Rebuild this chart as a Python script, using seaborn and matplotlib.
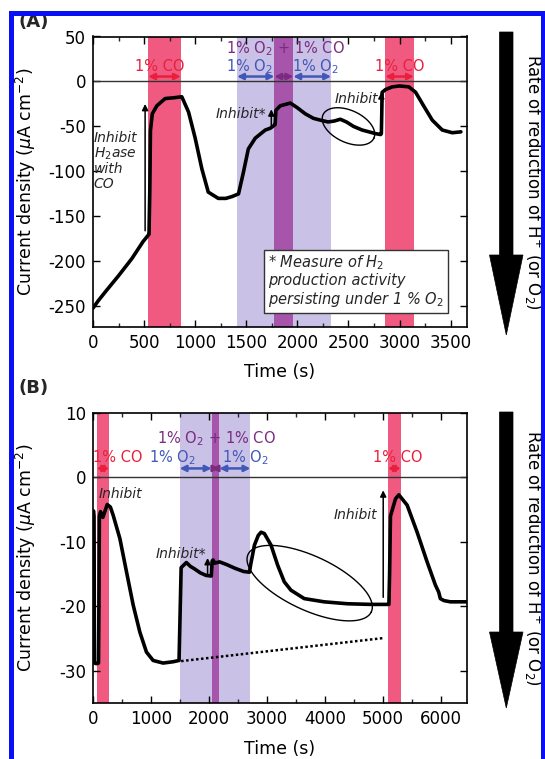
import numpy as np
import pandas as pd
import seaborn as sns
import matplotlib
matplotlib.use('Agg')
import matplotlib.pyplot as plt
from matplotlib.patches import Polygon, Rectangle
from matplotlib.ticker import MultipleLocator

# ---------------- data ----------------
# Panel A : current density (uA cm-2) vs time (s)
time_a = [0, 50, 120, 250, 380, 490, 540, 548, 556, 562, 580, 625, 706, 800, 869,
          935, 1000, 1065, 1128, 1226, 1300, 1360, 1424, 1472, 1520, 1588, 1686,
          1735, 1770, 1782, 1790, 1833, 1900, 1931, 1997, 2078, 2157, 2225, 2300,
          2360, 2420, 2480, 2550, 2634, 2700, 2765, 2815, 2822, 2830, 2863, 2928,
          3000, 3091, 3157, 3235, 3320, 3418, 3516, 3600]
curr_a = [-252, -244, -234, -216, -197, -178, -171, -170, -120, -55, -36, -27, -19,
          -18, -17, -34, -63, -97, -123, -130, -130, -128, -125, -101, -75, -63, -54,
          -52, -49, -48, -32, -27, -25, -24, -29, -36, -41, -43, -45, -44, -42, -45,
          -50, -54, -56, -58, -59, -58, -12, -9, -6, -5, -6, -12, -27, -43, -54, -57,
          -56]

# Panel B
time_b = [0, 10, 18, 25, 60, 95, 102, 110, 130, 170, 245, 300, 349, 464, 579, 693,
          808, 922, 1037, 1209, 1381, 1484, 1500, 1520, 1610, 1680, 1753, 1850, 1950,
          2040, 2055, 2070, 2100, 2182, 2300, 2450, 2600, 2698, 2720, 2784, 2850,
          2898, 2955, 3070, 3184, 3299, 3414, 3643, 3986, 4387, 4788, 5103, 5115,
          5130, 5218, 5275, 5418, 5590, 5762, 5905, 5962, 5990, 6050, 6162, 6306, 6450]
curr_b = [-5.4, -5.2, -6, -28.8, -28.9, -28.8, -20, -6, -5.3, -6.2, -4.2, -4.6, -5.9,
          -9.5, -14.7, -19.8, -24, -27.1, -28.4, -28.8, -28.6, -28.4, -22, -14, -13.2,
          -13.8, -14.2, -14.8, -15.2, -15.3, -13, -12.8, -13.3, -13.1, -13.5, -14.1,
          -14.6, -14.7, -13.5, -10.5, -9, -8.5, -8.7, -10.5, -13.6, -16.2, -17.5,
          -18.8, -19.3, -19.6, -19.7, -19.7, -15, -6, -3.3, -2.7, -4.3, -8.5, -13.1,
          -16.7, -17.8, -18.8, -19.1, -19.3, -19.3, -19.3]

# gas-exposure intervals (s)
co_a = [(540, 860), (2860, 3140)]
o2_a = (1410, 2330)
o2co_a = (1775, 1960)
co_b = [(63, 280), (5086, 5310)]
o2_b = (1495, 2715)
o2co_b = (2045, 2180)
baseline_b_t = [1520, 5030]
baseline_b_v = [-28.5, -24.9]

xticks_a = [0, 500, 1000, 1500, 2000, 2500, 3000, 3500]
yticks_a = [50, 0, -50, -100, -150, -200, -250]
xticks_b = [0, 1000, 2000, 3000, 4000, 5000, 6000]
yticks_b = [10, 0, -10, -20, -30]

# ---------------- style ----------------
sns.set_theme(style='ticks')
plt.rcParams['font.family'] = ['DejaVu Sans']
plt.rcParams['mathtext.fontset'] = 'dejavusans'

PINK = '#f05a80'
LPURP = '#c9c1e6'
DPURP = '#a655aa'
RED = '#e8203c'
BLUE = '#4058b8'
PURP = '#7a2c80'

W, H = 545, 759
fig = plt.figure(figsize=(W / 100, H / 100), dpi=100)
fig.patch.set_facecolor('white')


def fx(px):
    return px / W


def fy(py):
    return 1 - py / H


def make_ax(left, right, top, bottom):
    return fig.add_axes([fx(left), fy(bottom), fx(right) - fx(left), fy(top) - fy(bottom)])


axA = make_ax(93, 467, 36.5, 327)
axB = make_ax(93, 467, 413, 703)

XLIM_A, YLIM_A = (0, 3660), (-273, 50)
XLIM_B, YLIM_B = (0, 6450), (-35, 10)


def ellipse(ax, tc, vc, a_px, b_px, ang, xlim, ylim, wpx, hpx):
    sx = wpx / (xlim[1] - xlim[0])
    sy = hpx / (ylim[1] - ylim[0])
    phi = np.linspace(0, 2 * np.pi, 300)
    th = np.deg2rad(ang)
    dx = a_px * np.cos(phi) * np.cos(th) - b_px * np.sin(phi) * np.sin(th)
    dy = a_px * np.cos(phi) * np.sin(th) + b_px * np.sin(phi) * np.cos(th)
    ax.plot(tc + dx / sx, vc + dy / sy, color='black', lw=1.0, zorder=4)


def darrow(ax, x0, x1, y, color):
    ax.annotate('', xy=(x1, y), xytext=(x0, y),
                arrowprops=dict(arrowstyle='<|-|>', color=color, lw=1.8,
                                mutation_scale=9, shrinkA=0, shrinkB=0), zorder=6)


def varrow(ax, x, y0, y1, lw=1.1):
    ax.annotate('', xy=(x, y1), xytext=(x, y0),
                arrowprops=dict(arrowstyle='-|>', color='black', lw=lw,
                                mutation_scale=9, shrinkA=0, shrinkB=0), zorder=6)


def style_ax(ax, xlim, ylim, xticks, yticks, xminor, xlabelpad):
    ax.set_xlim(*xlim)
    ax.set_ylim(*ylim)
    ax.set_xticks(xticks)
    ax.set_yticks(yticks)
    ax.set_xticklabels([str(v) for v in xticks])
    ax.set_yticklabels([str(v) for v in yticks])
    ax.xaxis.set_minor_locator(MultipleLocator(xminor))
    ax.tick_params(which='major', direction='in', top=True, right=True, length=5,
                   width=1, labelsize=12, colors='black', pad=5)
    ax.tick_params(which='minor', direction='in', top=True, right=False, length=3, width=1)
    for s in ax.spines.values():
        s.set_color('black')
        s.set_linewidth(1.2)
    ax.axhline(0, color='#333333', lw=1.0, zorder=1)
    ax.set_xlabel('Time (s)', fontsize=12.5, color='black', labelpad=xlabelpad)
    ax.set_ylabel('Current density ($\\mu$A cm$^{-2}$)', fontsize=12.5, color='black')
    ax.yaxis.set_label_coords(-0.148, 0.5)
    ax.set_facecolor('white')


# ---------------- panel A ----------------
for (a, b) in co_a:
    axA.axvspan(a, b, color=PINK, lw=0, zorder=0)
axA.axvspan(*o2_a, color=LPURP, lw=0, zorder=0)
axA.axvspan(*o2co_a, color=DPURP, lw=0, zorder=0.5)

dfA = pd.DataFrame({'t': time_a, 'j': curr_a})
sns.lineplot(data=dfA, x='t', y='j', ax=axA, sort=False, estimator=None,
             color='black', lw=2.6, zorder=5)
style_ax(axA, XLIM_A, YLIM_A, xticks_a, yticks_a, 250, 8)

darrow(axA, co_a[0][0], co_a[0][1], 5.5, RED)
darrow(axA, co_a[1][0], co_a[1][1], 5.5, RED)
darrow(axA, o2_a[0], o2co_a[0], 5.5, BLUE)
darrow(axA, o2co_a[0], o2co_a[1], 5.5, PURP)
darrow(axA, o2co_a[1], o2_a[1], 5.5, BLUE)
axA.text(650, 17, '1% CO', color=RED, fontsize=10.5, ha='center', va='center')
axA.text(3005, 17, '1% CO', color=RED, fontsize=10.5, ha='center', va='center')
axA.text(1530, 17, '1% O$_2$', color=BLUE, fontsize=10.5, ha='center', va='center')
axA.text(2180, 17, '1% O$_2$', color=BLUE, fontsize=10.5, ha='center', va='center')
axA.text(1880, 37, '1% O$_2$ + 1% CO', color=PURP, fontsize=10.5, ha='center', va='center')

varrow(axA, 510, -166, -25)
axA.text(5, -88, 'Inhibit\nH$_2$ase\nwith\nCO', fontsize=10, style='italic',
         ha='left', va='center', linespacing=1.05, zorder=7)
axA.text(1700, -36, 'Inhibit*', fontsize=10, style='italic', ha='right', va='center')
varrow(axA, 1745, -50, -31)
axA.text(2790, -20, 'Inhibit', fontsize=10, style='italic', ha='right', va='center')
varrow(axA, 2822, -58, -12)
ellipse(axA, 2500, -50, 28, 16, -25, XLIM_A, YLIM_A, 374, 290.5)

axA.text(1712, -222, '* Measure of H$_2$\nproduction activity\npersisting under 1 % O$_2$',
         fontsize=10.5, style='italic', ha='left', va='center', linespacing=1.08,
         zorder=3,
         bbox=dict(boxstyle='square,pad=0.3', fc='white', ec='#333333', lw=1))

# ---------------- panel B ----------------
for (a, b) in co_b:
    axB.axvspan(a, b, color=PINK, lw=0, zorder=0)
axB.axvspan(*o2_b, color=LPURP, lw=0, zorder=0)
axB.axvspan(*o2co_b, color=DPURP, lw=0, zorder=0.5)

dfB = pd.DataFrame({'t': time_b, 'j': curr_b})
sns.lineplot(data=dfB, x='t', y='j', ax=axB, sort=False, estimator=None,
             color='black', lw=2.6, zorder=5)
axB.plot(baseline_b_t, baseline_b_v, color='black', lw=1.8, ls=(0, (1, 1)), zorder=4)
style_ax(axB, XLIM_B, YLIM_B, xticks_b, yticks_b, 500, 9)

darrow(axB, co_b[0][0], co_b[0][1], 1.4, RED)
darrow(axB, co_b[1][0], co_b[1][1], 1.4, RED)
darrow(axB, o2_b[0], o2co_b[0], 1.4, BLUE)
darrow(axB, o2co_b[0], o2co_b[1], 1.4, PURP)
darrow(axB, o2co_b[1], o2_b[1], 1.4, BLUE)
axB.text(430, 3.1, '1% CO', color=RED, fontsize=10.5, ha='center', va='center')
axB.text(5260, 3.1, '1% CO', color=RED, fontsize=10.5, ha='center', va='center')
axB.text(1370, 3.1, '1% O$_2$', color=BLUE, fontsize=10.5, ha='center', va='center')
axB.text(2630, 3.1, '1% O$_2$', color=BLUE, fontsize=10.5, ha='center', va='center')
axB.text(2120, 6.0, '1% O$_2$ + 1% CO', color=PURP, fontsize=10.5, ha='center', va='center')

axB.text(90, -2.6, 'Inhibit', fontsize=10, style='italic', ha='left', va='center', zorder=7)
axB.text(1960, -11.9, 'Inhibit*', fontsize=10, style='italic', ha='right', va='center')
varrow(axB, 1976, -15.2, -12.5)
axB.text(4897, -5.9, 'Inhibit', fontsize=10, style='italic', ha='right', va='center')
varrow(axB, 5005, -18.6, -2.0)
ellipse(axB, 3737, -16.4, 68, 27, -25, XLIM_B, YLIM_B, 374, 290)

# ---------------- figure decorations ----------------
fig.text(fx(18), fy(22), '(A)', fontsize=13, fontweight='bold', ha='left', va='center')
fig.text(fx(18), fy(388), '(B)', fontsize=13, fontweight='bold', ha='left', va='center')


def big_arrow(top, head_start, tip):
    pts = [(499.5, top), (513, top), (513, head_start), (523, head_start),
           (506.3, tip), (489.5, head_start), (499.5, head_start)]
    poly = Polygon([(fx(x), fy(y)) for x, y in pts], closed=True,
                   transform=fig.transFigure, fc='black', ec='black', lw=0.5)
    fig.patches.append(poly)


big_arrow(32, 255, 335)
big_arrow(412, 632, 708)

for yc in [(36.5 + 327) / 2, (413 + 703) / 2]:
    fig.text(fx(533), fy(yc), 'Rate of reduction of H$^{+}$ (or O$_2$)', rotation=-90,
             fontsize=12, ha='center', va='center', color='black')

frame = Rectangle((fx(10.5), fy(800)), fx(542.5) - fx(10.5), fy(12.5) - fy(800),
                  transform=fig.transFigure, fill=False, ec='#0a10f5', lw=3.6,
                  zorder=100)
fig.patches.append(frame)
fig.patches.append(Rectangle((0, fy(10)), 1, 1, transform=fig.transFigure,
                             fc='white', ec='none', zorder=99))
fig.patches.append(Rectangle((0, 0), fx(8), 1, transform=fig.transFigure,
                             fc='white', ec='none', zorder=99))

fig.savefig('out.png', dpi=100, facecolor='white')
